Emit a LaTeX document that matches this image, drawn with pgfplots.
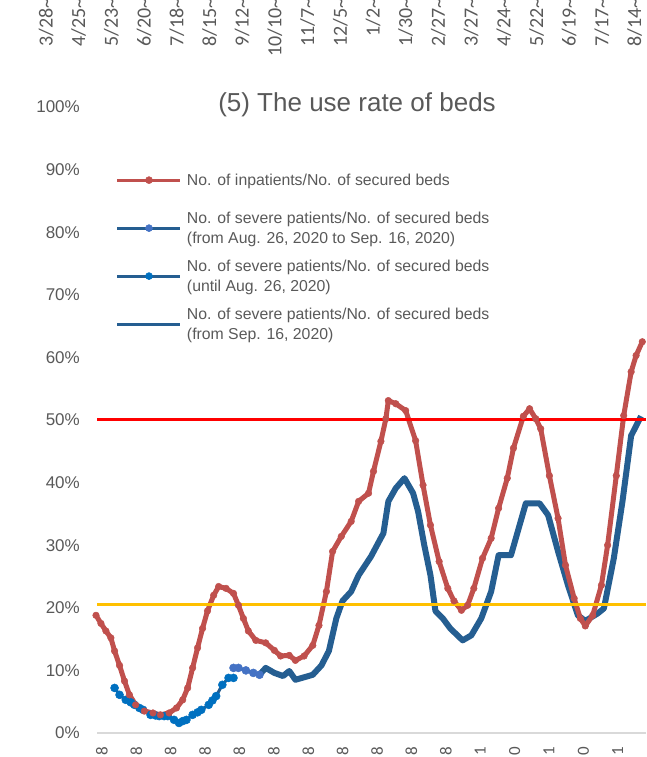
\documentclass[border=0pt]{standalone}
\usepackage{pgfplots}
\pgfplotsset{compat=1.18}
\usepackage{fontspec}
\setmainfont{Liberation Sans}
\newfontfamily\carlito{Carlito}

\definecolor{bedred}{HTML}{C0504D}
\definecolor{sevdark}{HTML}{255E91}
\definecolor{sevmid}{HTML}{4472C4}
\definecolor{sevbright}{HTML}{0070C0}
\definecolor{txtgray}{HTML}{595959}
\definecolor{axgray}{HTML}{D9D9D9}
\definecolor{limred}{HTML}{FF0000}
\definecolor{limyellow}{HTML}{FFC000}

% cut-off date labels of the panel above
\newcommand\toplab[2]{\node[rotate=90, anchor=east, inner sep=0pt, text=txtgray,
  font=\carlito\fontsize{20}{20}\selectfont] at (#1,759) {#2\textasciitilde};}

\begin{document}
\begin{tikzpicture}[x=1pt,y=1pt]
\path[use as bounding box] (0,0) rectangle (646,757);

\begin{axis}[
  scale only axis,
  width=550pt, height=626pt,
  at={(96pt,24pt)}, anchor=south west,
  xmin=0, xmax=444, ymin=0, ymax=100,
  clip=false,
  axis line style={draw=none},
  major tick length=0pt,
  ytick={0,10,...,100},
  yticklabels={0\%,10\%,20\%,30\%,40\%,50\%,60\%,70\%,80\%,90\%,100\%},
  yticklabel style={font=\fontsize{17}{17}\selectfont, text=txtgray, inner sep=0pt, xshift=-16pt},
  xtick={4.8,32.56,...,422},
  xticklabels={8,8,8,8,8,8,8,8,8,8,8,1,0,1,0,1},
  xticklabel style={yshift=-14pt, rotate=90, anchor=east, inner sep=0pt, text=txtgray,
    font=\carlito\fontsize{17}{17}\selectfont},
  legend style={at={(0.036,0.897)}, anchor=north west, draw=none, fill=none,
    inner sep=0pt, row sep=9.5pt, column sep=3pt, text=txtgray,
    font=\fontsize{15.8}{20}\selectfont,
    cells={anchor=west, align=left}},
  legend image code/.code={
    \path[draw=none, fill=none] (0pt,-20pt) -- (0pt,0pt);
    \draw[#1, line width=3pt, mark=none] (0pt,0pt) -- (63pt,0pt);
    \draw[#1, only marks, mark size=3.5pt] plot coordinates {(31.5pt,0pt)};
  },
]

% baseline of the axis
\draw[axgray, line width=2.5pt] (axis cs:1,0) -- (axis cs:444,0);

% severe patients, from Sep. 16, 2020
\addplot[sevdark, line width=6pt, line join=round, mark=none, forget plot] coordinates {
  (132,9.3) (137,10.4) (144,9.6) (151,9.1) (156,9.9) (161,8.5) (175,9.3) (182,10.8)
  (188,13.1) (194,18.3) (199,21.1) (206,22.6) (212,25.2) (222,28.2) (232,31.9)
  (236,37.0) (242,39.1) (249,40.7) (256,38.3) (260,35.4) (265,30.0) (270,25.2)
  (274,19.5) (280,18.3) (286,16.7) (296,14.8) (303,15.6) (311,18.3) (319,22.6)
  (325,28.4) (335,28.4) (347,36.7) (358,36.7) (365,34.8) (373,29.0) (381,23.6)
  (389,18.8) (395,17.9) (405,19.1) (410,19.9) (418,27.9) (425,37.0) (432,47.5)
  (440,50.6)
};

% severe patients, until Aug. 26, 2020
\addplot[sevdark, line width=3pt, line join=round, mark=*, mark size=4pt,
  mark options={draw=sevbright, fill=sevbright, line width=0.5pt}, forget plot] coordinates {
  (15,7.2) (19,6.1) (24,5.3) (28,4.9) (31,4.5) (35,4.0) (38,3.7) (44,2.9) (48,2.8)
  (51,2.7) (55,2.7) (58,2.7) (63,2.1) (67,1.6) (70,1.9) (73,2.1) (78,2.9) (82,3.3)
  (85,3.7) (91,4.5) (94,5.2) (97,5.9) (102,7.7) (107,8.8) (111,8.8)
};

% severe patients, Aug. 26 - Sep. 16, 2020
\addplot[sevdark, line width=3pt, line join=round, mark=*, mark size=4pt,
  mark options={draw=sevmid, fill=sevmid, line width=0.5pt}, forget plot] coordinates {
  (111,10.4) (115,10.4) (121,10.0) (127,9.6) (132,9.3)
};

% inpatients
\addplot[bedred, line width=5pt, line join=round, mark=*, mark size=3.3pt,
  mark options={line width=0.5pt}, forget plot] coordinates {
  (0,18.8) (4,17.5) (8,16.3) (12,15.2) (15,13.1) (19,10.8) (23,8.3) (27,6.1) (32,4.5)
  (39,3.5) (46,3.2) (52,2.9) (59,3.2) (65,4.0) (70,5.3) (74,7.2) (78,10.4) (82,13.6)
  (86,16.7) (90,19.5) (95,22.0) (99,23.4) (105,23.1) (111,22.3) (115,20.4)
  (119,18.3) (123,16.3) (129,14.8) (137,14.4) (144,13.2) (149,12.3) (156,12.4)
  (161,11.6) (168,12.3) (175,14.0) (180,17.2) (186,22.6) (191,29.0) (198,31.4)
  (206,33.8) (212,37.0) (220,38.3) (224,41.8) (230,46.6) (234,50.2) (236,53.1)
  (242,52.6) (250,51.5) (258,46.7) (264,39.6) (270,33.2) (277,27.4) (284,23.1)
  (289,21.1) (295,19.6) (300,20.4) (305,23.1) (312,27.9) (319,31.1) (325,35.9)
  (332,40.7) (337,45.5) (345,50.6) (350,51.8) (355,50.2) (359,48.6) (366,41.1)
  (373,34.3) (379,26.8) (386,21.5) (391,18.3) (395,17.1) (401,18.8) (408,23.6)
  (413,30.0) (420,41.1) (426,50.7) (432,57.7) (436,60.3) (441,62.5)
};

% reference levels
\addplot[limred, line width=3pt, forget plot] coordinates {(1,50) (444,50)};
\addplot[limyellow, line width=3pt, forget plot] coordinates {(1,20.5) (444,20.5)};

% legend, in the order of the original
\addlegendimage{bedred, mark=*, mark options={line width=0.5pt}}
\addlegendentry{No. of inpatients/No. of secured beds}
\addlegendimage{sevdark, mark=*, mark options={draw=sevmid, fill=sevmid, line width=0.5pt}}
\addlegendentry{No. of severe patients/No. of secured beds\\(from Aug. 26, 2020 to Sep. 16, 2020)}
\addlegendimage{sevdark, mark=*, mark options={draw=sevbright, fill=sevbright, line width=0.5pt}}
\addlegendentry{No. of severe patients/No. of secured beds\\(until Aug. 26, 2020)}
\addlegendimage{sevdark, mark=none}
\addlegendentry{No. of severe patients/No. of secured beds\\(from Sep. 16, 2020)}
\end{axis}

\node[text=txtgray, font=\fontsize{26}{30}\selectfont] at (357,652) {(5) The use rate of beds};

\toplab{46}{3/28}
\toplab{78.7}{4/25}
\toplab{111.4}{5/23}
\toplab{144.1}{6/20}
\toplab{176.8}{7/18}
\toplab{209.5}{8/15}
\toplab{242.2}{9/12}
\toplab{274.9}{10/10}
\toplab{307.6}{11/7}
\toplab{340.3}{12/5}
\toplab{373}{1/2}
\toplab{405.7}{1/30}
\toplab{438.4}{2/27}
\toplab{471.1}{3/27}
\toplab{503.8}{4/24}
\toplab{536.5}{5/22}
\toplab{569.2}{6/19}
\toplab{601.9}{7/17}
\toplab{634.6}{8/14}
\end{tikzpicture}
\end{document}
